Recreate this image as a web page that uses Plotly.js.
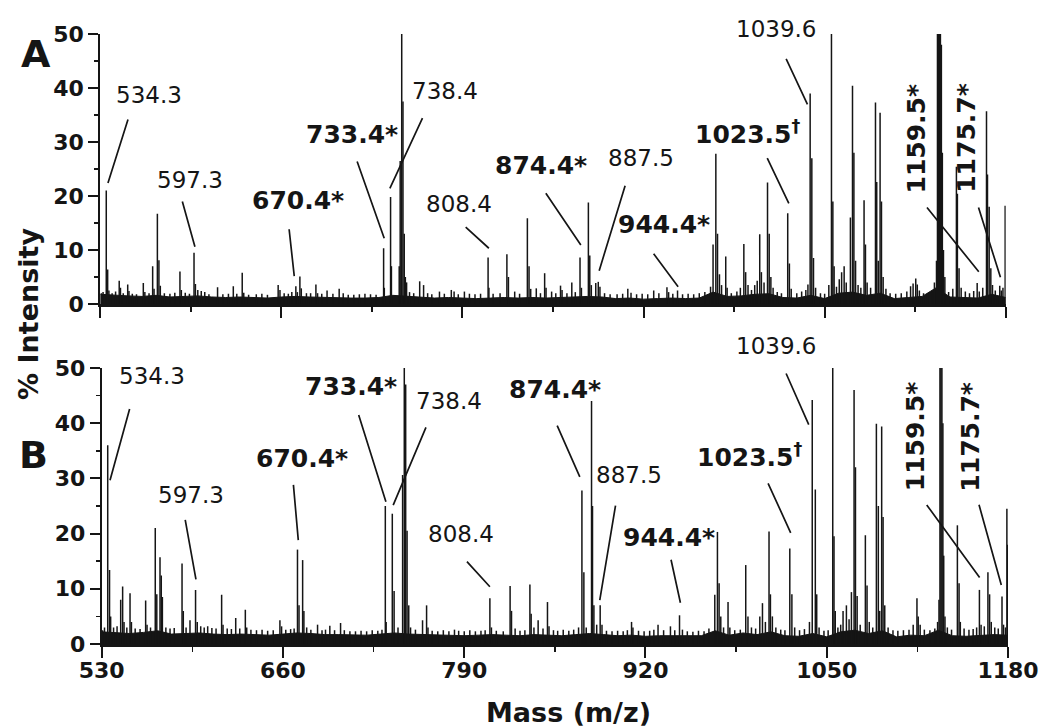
<!DOCTYPE html>
<html>
<head>
<meta charset="utf-8">
<script src="https://cdn.plot.ly/plotly-3.0.1.min.js"></script>
<style>html,body{margin:0;padding:0;background:#fff;}#chart{width:1050px;height:728px;}</style>
</head>
<body>
<div id="chart"></div>
<script>
// ---------- DATA ----------
const xTicks = [530, 660, 790, 920, 1050, 1180];
const yTicks = [0, 10, 20, 30, 40, 50];

// Panel A peaks (m/z, % intensity)
const massA = [530.8,532.0,534.3,535.3,536.2,538.5,541.0,543.6,544.5,546.5,549.7,550.6,553.0,556.0,560.9,562.0,565.0,567.6,568.6,571.0,572.1,573.1,576.0,580.0,583.5,587.2,588.2,591.0,594.0,597.3,598.3,600.0,602.5,605.0,608.0,614.2,618.0,622.0,625.5,628.0,631.9,633.0,636.5,642.0,646.0,650.0,657.7,659.0,662.0,665.0,667.5,670.4,671.5,673.3,674.3,678.0,681.0,684.8,686.0,689.0,692.8,697.0,701.5,704.4,708.0,712.0,716.0,720.0,724.0,728.0,733.4,733.9,738.4,739.0,744.6,745.3,746.4,747.3,748.2,749.0,749.9,752.0,755.0,759.3,762.1,765.0,768.0,773.5,777.0,782.0,784.0,787.0,791.4,795.0,799.0,803.0,808.4,809.0,812.0,817.0,821.9,823.0,827.5,831.0,836.6,837.8,839.0,843.0,846.0,849.0,850.0,854.0,857.0,860.4,861.5,865.0,868.5,871.0,874.4,875.4,880.4,881.4,882.5,885.7,887.5,888.7,892.0,896.0,901.0,905.0,908.7,911.0,915.0,919.0,923.0,927.3,931.0,936.8,938.0,941.0,944.4,948.0,952.0,956.0,960.0,964.0,968.1,969.9,971.9,973.1,974.5,976.0,979.0,980.0,983.0,987.0,989.5,992.0,993.3,995.0,997.5,999.8,1001.6,1003.4,1004.6,1006.5,1009.0,1010.2,1011.4,1013.0,1016.0,1019.0,1023.5,1024.7,1026.0,1030.0,1033.5,1036.5,1038.0,1039.6,1040.8,1042.0,1043.5,1047.0,1050.0,1053.0,1054.9,1055.9,1056.8,1058.5,1060.5,1062.2,1064.0,1065.5,1068.5,1070.0,1071.0,1072.2,1074.0,1076.0,1078.3,1079.3,1080.5,1083.0,1086.5,1087.4,1088.5,1089.8,1090.8,1092.0,1094.0,1097.0,1101.0,1105.0,1109.0,1111.7,1113.5,1115.4,1116.5,1118.0,1121.0,1124.0,1127.0,1128.8,1130.3,1131.0,1131.7,1132.4,1133.1,1133.8,1134.5,1135.3,1136.3,1139.0,1142.0,1144.6,1145.3,1146.5,1148.0,1151.0,1154.0,1157.0,1159.5,1161.0,1163.5,1166.2,1166.9,1168.1,1169.3,1170.5,1172.5,1175.7,1176.8,1178.0,1179.6];
const intA = [2.0,2.2,21.0,6.4,2.5,2.0,2.3,4.3,3.0,2.0,3.6,2.4,1.9,1.8,3.9,2.2,2.0,7.0,2.8,16.7,8.1,3.4,2.0,1.9,2.1,6.0,2.6,2.1,1.9,9.5,3.7,2.6,2.4,2.2,1.8,3.1,1.8,1.9,3.3,1.9,5.8,2.1,1.7,1.8,1.9,1.7,3.5,2.6,2.0,1.9,2.2,3.3,2.2,5.1,2.9,2.0,2.0,3.6,2.0,1.9,2.5,1.9,2.8,2.0,1.7,1.7,1.8,1.9,1.8,1.7,10.3,3.0,19.8,7.0,7.0,26.5,51,37.5,13,5.0,4.0,2.2,2.0,4.2,3.5,2.0,1.8,2.3,1.9,2.6,2.3,1.8,2.3,1.9,1.8,1.9,8.6,3.0,1.9,2.0,9.2,5.0,2.3,1.9,15.9,7.0,2.8,2.9,2.0,5.7,3.0,2.3,2.0,3.4,2.6,2.0,4.0,2.2,8.6,3.0,18.8,9.0,3.5,3.9,4.1,3.2,2.0,1.8,1.8,1.9,2.8,2.1,1.8,1.9,1.8,2.5,2.0,3.1,2.2,1.9,2.5,1.8,1.9,1.8,2.0,2.2,3.2,11,27.8,13,5.5,3.5,8.8,3.0,2.0,2.3,3.0,11.1,5.9,3.5,2.6,3.5,4.3,12.9,5.9,4.0,22.5,13,5.0,3.0,2.2,2.0,16.8,7.5,2.8,2.0,2.3,2.6,3.6,39,27,8.5,3.0,2.0,1.9,3.5,51,19,7.0,3.2,4.6,5.9,7.0,4.0,16,40.4,28,8.0,3.5,3.0,19.2,11,4.0,3.0,37.3,22.6,8.0,35.4,19,5.0,2.8,2.0,1.9,2.0,2.3,3.3,3.8,4.7,3.6,2.5,2.0,2.0,2.3,4.0,8.0,51,51,51,51,48,28,10,5.0,2.2,2.8,25.4,20.4,6.6,3.0,2.3,2.0,2.4,3.9,2.3,3.0,35.7,24,18,6.6,3.5,2.5,3.4,2.5,3.0,18.2];

// Panel A baseline (noise floor)
const baseMassA = [530,540,550,560,570,580,590,600,610,620,630,640,650,660,670,680,690,700,710,720,730,740,750,760,770,780,790,800,810,820,830,840,850,860,870,880,890,900,910,920,930,940,950,960,970,980,990,1000,1010,1020,1030,1040,1050,1060,1070,1080,1090,1100,1110,1120,1130,1140,1150,1160,1170,1180];
const baseIntA = [1.8,1.6,1.5,1.4,1.6,1.3,1.4,1.5,1.3,1.2,1.3,1.2,1.1,1.3,1.4,1.3,1.2,1.2,1.1,1.1,1.2,1.6,1.4,1.2,1.1,1.2,1.1,1.0,1.1,1.2,1.1,1.2,1.1,1.2,1.3,1.4,1.3,1.0,1.1,0.9,1.0,1.1,1.0,1.1,2.2,1.4,1.5,1.8,1.9,1.2,1.1,1.6,1.0,2.0,2.2,1.6,2.0,1.0,1.2,1.4,3.0,1.3,1.2,1.1,1.8,1.2];

// Panel B peaks
const massB = [530.6,532.0,534.3,535.6,536.4,538.5,541.0,543.6,545.0,546.0,548.0,550.3,551.3,554.0,557.5,561.5,562.5,565.0,568.4,569.5,571.8,572.7,573.5,576.0,579.0,582.0,587.6,588.5,590.5,593.3,597.3,598.5,601.0,603.5,606.0,609.0,612.0,616.0,617.0,620.0,623.0,626.1,629.0,633.0,634.0,637.0,641.0,645.0,649.0,653.0,657.8,659.0,662.0,665.5,668.0,670.4,671.5,674.1,675.0,677.0,680.0,684.8,688.0,690.5,693.6,697.0,701.3,704.0,708.0,712.0,716.0,720.0,724.0,728.0,731.0,733.4,734.0,738.4,739.7,742.5,745.8,747.0,748.0,749.0,750.2,751.5,755.0,760.1,763.0,764.0,767.0,771.0,775.0,779.0,783.0,786.0,790.0,794.0,798.0,802.0,805.0,808.4,809.5,813.0,818.0,822.9,823.9,826.5,830.0,833.5,837.1,838.0,840.0,843.0,846.5,849.7,850.8,854.0,857.0,861.0,865.0,868.5,872.0,874.4,875.8,877.5,881.3,882.0,883.0,885.0,887.5,888.8,892.0,896.0,900.0,904.0,907.0,910.0,911.0,915.0,919.0,923.0,926.0,929.0,933.0,937.9,941.0,944.4,946.5,950.0,954.0,958.0,962.0,965.5,969.7,971.6,972.8,974.0,976.0,979.2,980.5,984.0,988.0,991.9,993.5,996.0,999.0,1002.0,1003.9,1006.0,1008.6,1009.6,1011.0,1013.5,1017.0,1020.0,1023.5,1025.0,1027.0,1030.5,1034.0,1037.6,1039.6,1041.8,1042.8,1044.5,1048.0,1051.0,1054.3,1055.2,1056.1,1058.0,1060.0,1061.7,1064.1,1066.0,1067.7,1069.6,1070.6,1071.8,1074.0,1077.7,1078.9,1080.5,1083.0,1085.6,1087.0,1088.0,1089.4,1090.4,1091.6,1094.0,1097.5,1101.0,1105.0,1109.0,1112.0,1114.7,1115.6,1117.0,1120.0,1124.0,1127.5,1129.5,1130.5,1131.2,1131.9,1132.6,1133.3,1133.9,1134.8,1136.5,1139.5,1143.7,1144.9,1145.8,1148.5,1152.0,1155.0,1157.5,1159.5,1160.7,1163.0,1165.6,1166.8,1168.0,1170.5,1173.0,1175.7,1176.8,1178.2,1179.2,1179.8];
const intB = [2.5,3.0,36,13.4,5.0,3.0,3.2,8.0,10.4,4.0,3.0,9.2,4.0,2.8,2.7,7.9,3.5,3.0,21,9.0,15.7,12.4,8.5,3.0,2.8,2.9,14.6,6.0,3.0,4.3,9.8,4.0,3.2,3.0,3.2,2.9,2.8,8.9,3.5,2.8,2.7,4.7,2.8,6.2,3.0,2.6,2.5,2.6,2.4,2.5,4.3,3.2,2.6,2.7,2.8,17.1,7.0,15.2,6.0,3.0,2.6,3.5,2.5,2.6,3.3,2.5,3.8,2.5,2.3,2.3,2.4,2.3,2.5,2.4,2.6,25,4.0,23.6,9.6,3.0,30.6,53,47,20.5,7.0,3.0,2.6,4.3,7.0,3.0,2.4,2.3,2.5,2.3,2.6,2.4,2.3,2.5,2.3,2.4,2.5,8.3,3.0,2.4,2.3,10.5,6.0,2.8,2.4,2.5,10.8,5.5,3.0,4.3,2.8,7.6,3.2,2.5,2.4,2.6,2.4,2.6,3.0,27.8,13,3.0,44,25,7.0,3.5,7.0,3.5,2.4,2.3,2.4,2.3,2.5,4.0,3.0,2.4,2.3,2.4,2.6,3.5,2.5,3.2,2.5,5.2,2.6,2.3,2.2,2.4,2.3,2.8,8.9,20.3,11,5.0,3.0,7.6,3.0,2.5,2.6,14.3,5.0,3.0,2.8,5.0,7.4,4.0,20.4,9.0,5.0,3.0,2.6,2.5,17.3,9.0,3.0,2.5,2.7,4.0,44.2,28,9.0,3.0,2.4,2.5,53,19.5,6.0,3.0,3.5,6.0,7.0,4.5,9.4,46,32,8.7,3.5,19.7,10.6,4.0,3.0,39.9,25,6.0,39.4,23,7.0,3.0,2.5,2.4,2.5,2.6,3.5,8.3,5.0,3.5,2.6,2.5,2.8,4.0,8.0,53,53,50,40,16,5.0,3.0,2.6,21.5,11,4.0,2.8,2.6,2.7,3.0,9.8,3.5,3.2,13,9.0,4.0,3.0,2.8,8.6,3.5,3.0,24.5,18];

// Panel B baseline
const baseMassB = [530,540,550,560,570,580,590,600,610,620,630,640,650,660,670,680,690,700,710,720,730,740,750,760,770,780,790,800,810,820,830,840,850,860,870,880,890,900,910,920,930,940,950,960,970,980,990,1000,1010,1020,1030,1040,1050,1060,1070,1080,1090,1100,1110,1120,1130,1140,1150,1160,1170,1180];
const baseIntB = [2.2,2.0,1.9,2.1,2.4,1.8,1.9,2.0,1.8,1.7,1.8,1.7,1.6,1.8,2.0,1.9,1.7,1.7,1.6,1.6,1.8,2.0,1.8,1.7,1.6,1.6,1.5,1.6,1.7,1.6,1.5,1.7,1.6,1.5,1.7,1.9,1.7,1.5,1.6,1.4,1.5,1.5,1.4,1.5,2.4,1.6,2.0,1.7,2.2,1.5,1.4,1.9,1.3,2.2,2.5,1.9,2.4,1.3,1.6,1.5,2.5,1.5,1.4,1.5,1.7,1.6];

// Peak labels: text, m/z, bold, rotated
const labelText = ['534.3','597.3','670.4*','733.4*','738.4','808.4','874.4*','887.5','944.4*','1023.5<sup>†</sup>','1039.6','1159.5*','1175.7*'];
const labelMass = [534.3,597.3,670.4,733.4,738.4,808.4,874.4,887.5,944.4,1023.5,1039.6,1159.5,1175.7];
const labelBold = [false,false,true,true,false,false,true,false,true,true,false,true,true];
const labelRot  = [false,false,false,false,false,false,false,false,false,false,false,true,true];

// ---------- LAYOUT OFFSETS (pixels; leader end shift, leader tail, text centre) ----------
const placeA = [
  [1.7,7.6, 20.5,-65, 43.2,95.1],
  [0.9,6.0, -13,-46.7, -4.1,72.7],
  [-1.6,10, -5.3,-48.4, 2.4,85.7],
  [0.6,10.1, -27.6,-78.3, -31.7,113.4],
  [-0.7,8.8, 33.3,-71.6, 54.8,105.8],
  [0.8,9.3, -24.7,-22.6, -29,53.4],
  [0.8,12.6, -36,-53.3, -39.4,91.8],
  [0.9,11.2, 26.4,-86.4, 42.4,123.9],
  [0.6,3.8, -25.6,-34.4, -13.7,65.5],
  [1.1,10, -22.3,-46.6, -39.9,80.8],
  [-2.7,-10.9, -22,-47, -33.7,64.2],
  [1.6,11.2, -53,-65.7, -60.7,144.9],
  [0.7,8.3, -22.4,-71.3, -34,147.6]
];
const placeB = [
  [2.3,-34.9, 20,-72.7, 44,69.3],
  [0.4,10.5, -11,-61, -4.1,94.8],
  [0.8,9.5, -5,-56.7, 4.2,91.2],
  [0.6,4.2, -27.7,-88.4, -34.7,119.2],
  [0.9,8.6, 33.4,-79.3, 56.8,112.8],
  [0,11.4, -24.3,-26.7, -29.2,63.9],
  [-2.1,13.7, -23.3,-52.7, -27.1,101.2],
  [-0.4,5.3, 16,-96, 28.8,130.3],
  [0.9,12.6, -9.7,-44.4, -10.8,77.8],
  [0.9,15.7, -23.3,-51, -40.1,93.4],
  [-3.5,-24.6, -23.3,-52.6, -36.7,53.9],
  [0.2,12.5, -54,-74, -63.1,154],
  [-0.7,11.5, -22.7,-81.7, -32.4,159.5]
];

const INK = '#151515';
const FONT = 'DejaVu Sans, Verdana, sans-serif';

function sticks(ms, vs) {
  const x = [], y = [];
  for (let i = 0; i < ms.length; i++) { x.push(ms[i], ms[i], null); y.push(0, vs[i], null); }
  return {x, y};
}
function valueAt(ms, vs, m) {
  let best = 0, d = 1e9;
  for (let i = 0; i < ms.length; i++) { const dd = Math.abs(ms[i] - m); if (dd < d) { d = dd; best = i; } }
  return vs[best];
}

const sA = sticks(massA, intA), sB = sticks(massB, intB);
const traces = [
  {x: baseMassA, y: baseIntA, xaxis: 'x2', yaxis: 'y2', type: 'scatter', mode: 'lines', fill: 'tozeroy',
   fillcolor: INK, line: {color: INK, width: 1}, hoverinfo: 'skip'},
  {x: sA.x, y: sA.y, xaxis: 'x2', yaxis: 'y2', type: 'scatter', mode: 'lines',
   line: {color: INK, width: 1.5}, connectgaps: false, hoverinfo: 'skip'},
  {x: baseMassB, y: baseIntB, xaxis: 'x', yaxis: 'y', type: 'scatter', mode: 'lines', fill: 'tozeroy',
   fillcolor: INK, line: {color: INK, width: 1}, hoverinfo: 'skip'},
  {x: sB.x, y: sB.y, xaxis: 'x', yaxis: 'y', type: 'scatter', mode: 'lines',
   line: {color: INK, width: 1.5}, connectgaps: false, hoverinfo: 'skip'}
];

const annotations = [];
function addLabels(place, ms, vs, xr, yr) {
  for (let i = 0; i < labelText.length; i++) {
    const m = labelMass[i], v = valueAt(ms, vs, m), p = place[i];
    annotations.push({xref: xr, yref: yr, x: m, y: v, xshift: p[0], yshift: p[1],
      ax: p[2], ay: p[3], axref: 'pixel', ayref: 'pixel', showarrow: true, arrowhead: 0,
      arrowwidth: 1.7, arrowcolor: INK, standoff: 0, text: ''});
    annotations.push({xref: xr, yref: yr, x: m, y: v, xshift: p[4], yshift: p[5], showarrow: false,
      text: labelText[i], textangle: labelRot[i] ? -90 : 0, xanchor: 'center', yanchor: 'middle',
      font: {family: FONT, size: labelBold[i] ? 25 : 23, color: INK, weight: labelBold[i] ? 'bold' : 'normal'}});
  }
}
addLabels(placeA, massA, intA, 'x2', 'y2');
addLabels(placeB, massB, intB, 'x', 'y');

function paperText(x, y, text, size, angle) {
  annotations.push({xref: 'paper', yref: 'paper', x, y, text, showarrow: false,
    xanchor: 'center', yanchor: 'middle', textangle: angle || 0,
    font: {family: FONT, size, weight: 'bold', color: INK}});
}
paperText(-0.0705, 0.967, 'A', 38);
paperText(-0.0727, 0.31, 'B', 38);
paperText(-0.0782, 0.541, '% Intensity', 27, -90);
paperText(0.5163, -0.1115, 'Mass (m/z)', 27);

function xAxis(domain, anchor, labels) {
  return {domain, anchor, range: [530, 1180], tickmode: 'array', tickvals: xTicks,
    ticktext: xTicks.map(String), showticklabels: labels, ticks: 'outside', ticklen: 11,
    tickwidth: 2, tickcolor: INK, showline: true, linewidth: 3, linecolor: INK,
    showgrid: false, zeroline: false, fixedrange: true, ticklabelstandoff: -6,
    tickfont: {family: FONT, size: 22, weight: 'bold', color: INK},
    minor: {tick0: 530, dtick: 65, ticks: 'outside', ticklen: 5, tickwidth: 1.5, tickcolor: INK, showgrid: false}};
}
function yAxis(domain, anchor) {
  return {domain, anchor, range: [0, 50], tickmode: 'array', tickvals: yTicks,
    ticktext: yTicks.map(String), ticks: 'outside', ticklen: 10, tickwidth: 2, tickcolor: INK,
    showline: true, linewidth: 2, linecolor: INK, showgrid: false, zeroline: false, fixedrange: true,
    tickfont: {family: FONT, size: 22, weight: 'bold', color: INK},
    minor: {tick0: 0, dtick: 5, ticks: 'outside', ticklen: 4, tickwidth: 1.5, tickcolor: INK, showgrid: false}};
}

const layout = {
  width: 1050, height: 728,
  margin: {l: 100, r: 41.7, t: 34, b: 84, pad: 0},
  paper_bgcolor: '#ffffff', plot_bgcolor: '#ffffff',
  showlegend: false,
  font: {family: FONT, color: INK},
  xaxis: xAxis([0.0019, 1], 'y', true),
  yaxis: yAxis([0, 0.4525], 'x'),
  xaxis2: xAxis([0.0003, 0.9975], 'y2', false),
  yaxis2: yAxis([0.5574, 1], 'x2'),
  annotations
};

Plotly.newPlot('chart', traces, layout, {staticPlot: true, displayModeBar: false});
</script>
</body>
</html>
